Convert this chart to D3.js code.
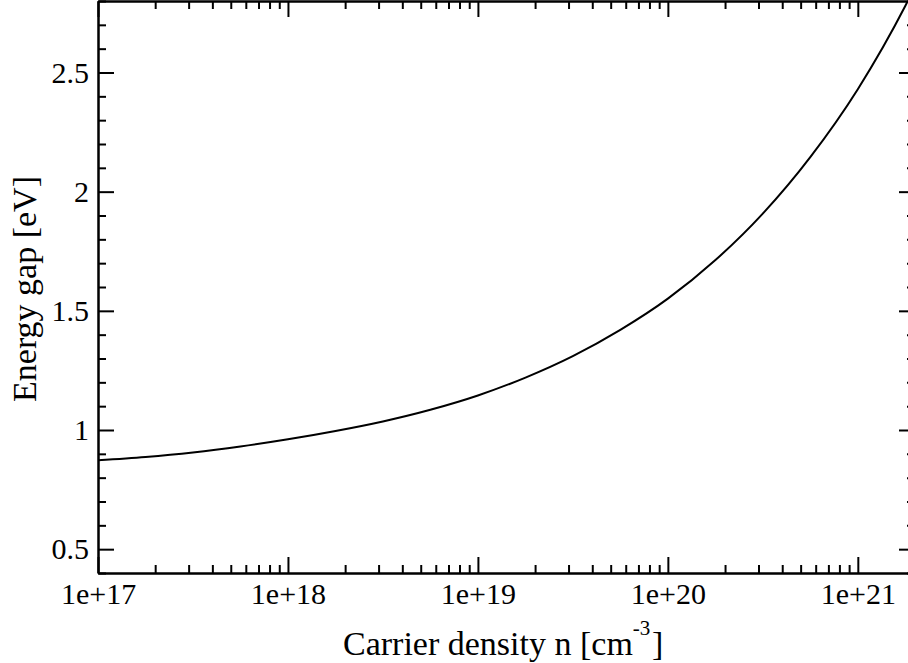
<!DOCTYPE html>
<html>
<head>
<meta charset="utf-8">
<title>Energy gap vs carrier density</title>
<script src="https://d3js.org/d3.v7.min.js"></script>
<style>
  body { margin: 0; background: #fff; }
  text { font-family: "Liberation Serif", "Times New Roman", serif; fill: #000; }
</style>
</head>
<body>
<div id="chart"></div>
<script>
// values
const density = [1e17, 1.78e17, 3.16e17, 5.62e17, 1e18, 1.78e18, 3.16e18, 5.62e18,
                 1e19, 1.78e19, 3.16e19, 5.62e19, 1e20, 1.78e20, 3.16e20, 5.62e20,
                 1e21, 1.78e21, 2e21];
const energyGap = [0.873, 0.887, 0.906, 0.931, 0.961, 0.996, 1.036, 1.085,
                   1.145, 1.22, 1.31, 1.42, 1.551, 1.713, 1.908, 2.145,
                   2.43, 2.78, 2.86];
const xDecades = [1e17, 1e18, 1e19, 1e20, 1e21];
const xTickLabels = ["1e+17", "1e+18", "1e+19", "1e+20", "1e+21"];
const yTicks = [0.5, 1, 1.5, 2, 2.5];
const yTickLabels = ["0.5", "1", "1.5", "2", "2.5"];

const W = 908, H = 663;
const mLeft = 98, mRight = 915, mTop = 1, mBottom = 573;

const svg = d3.select("#chart").append("svg")
    .attr("width", W)
    .attr("height", H);

const x = d3.scaleLog().domain([1e17, 2e21]).range([mLeft, mRight]);
const y = d3.scaleLinear().domain([0.4, 2.8]).range([mBottom, mTop]);

// minor ticks: 2..9 times each decade, inside the domain
let xMinor = [];
xDecades.forEach(function(d) {
    for (let k = 2; k <= 9; k++) {
        if (d * k < 2e21) xMinor.push(d * k);
    }
});
let yMinor = d3.range(4, 29).map(function(i) { return i / 10; })
    .filter(function(v) { return yTicks.indexOf(v) < 0; });

function styleAxis(g) {
    g.selectAll("path").attr("stroke", "#000").attr("stroke-width", 2);
    g.selectAll("line").attr("stroke", "#000").attr("stroke-width", 2);
    g.selectAll("text").attr("font-size", "30px").attr("fill", "#000")
        .style("font-family", "'Liberation Serif', 'Times New Roman', serif");
}

// bottom
svg.append("g").attr("transform", "translate(0," + mBottom + ")")
    .call(d3.axisBottom(x).tickValues(xMinor).tickSize(-8).tickSizeOuter(0).tickFormat(""))
    .call(styleAxis);
svg.append("g").attr("transform", "translate(0," + mBottom + ")")
    .call(d3.axisBottom(x).tickValues(xDecades).tickSize(-16).tickSizeOuter(0).tickPadding(10)
        .tickFormat(function(d, i) { return xTickLabels[i]; }))
    .call(styleAxis);

// top
svg.append("g").attr("transform", "translate(0," + mTop + ")")
    .call(d3.axisTop(x).tickValues(xMinor).tickSize(-8).tickSizeOuter(0).tickFormat(""))
    .call(styleAxis);
svg.append("g").attr("transform", "translate(0," + mTop + ")")
    .call(d3.axisTop(x).tickValues(xDecades).tickSize(-16).tickSizeOuter(0).tickFormat(""))
    .call(styleAxis);

// left
svg.append("g").attr("transform", "translate(" + mLeft + ",0)")
    .call(d3.axisLeft(y).tickValues(yMinor).tickSize(-8).tickSizeOuter(0).tickFormat(""))
    .call(styleAxis);
svg.append("g").attr("transform", "translate(" + mLeft + ",0)")
    .call(d3.axisLeft(y).tickValues(yTicks).tickSize(-16).tickSizeOuter(0).tickPadding(9)
        .tickFormat(function(d, i) { return yTickLabels[i]; }))
    .call(styleAxis);

// right
svg.append("g").attr("transform", "translate(" + mRight + ",0)")
    .call(d3.axisRight(y).tickValues(yMinor).tickSize(-8).tickSizeOuter(0).tickFormat(""))
    .call(styleAxis);
svg.append("g").attr("transform", "translate(" + mRight + ",0)")
    .call(d3.axisRight(y).tickValues(yTicks).tickSize(-16).tickSizeOuter(0).tickFormat(""))
    .call(styleAxis);

// curve
svg.append("clipPath").attr("id", "plotclip")
  .append("rect")
    .attr("x", mLeft).attr("y", mTop)
    .attr("width", mRight - mLeft).attr("height", mBottom - mTop);

const pts = density.map(function(n, i) { return [n, energyGap[i]]; });
const line = d3.line()
    .x(function(d) { return x(d[0]); })
    .y(function(d) { return y(d[1]); })
    .curve(d3.curveMonotoneX);

svg.append("path")
    .datum(pts)
    .attr("clip-path", "url(#plotclip)")
    .attr("fill", "none")
    .attr("stroke", "#000")
    .attr("stroke-width", 2)
    .attr("d", line);

// axis titles
const xt = svg.append("text")
    .attr("x", 343)
    .attr("y", 655)
    .attr("font-size", "34px");
xt.append("tspan").text("Carrier density n [cm");
xt.append("tspan").attr("font-size", "21px").attr("dy", "-20").text("-3");
xt.append("tspan").attr("x", 652).attr("y", 655).text("]");

svg.append("text")
    .attr("transform", "rotate(-90)")
    .attr("x", -289)
    .attr("y", 36)
    .attr("text-anchor", "middle")
    .attr("font-size", "34px")
    .text("Energy gap [eV]");
</script>
</body>
</html>
